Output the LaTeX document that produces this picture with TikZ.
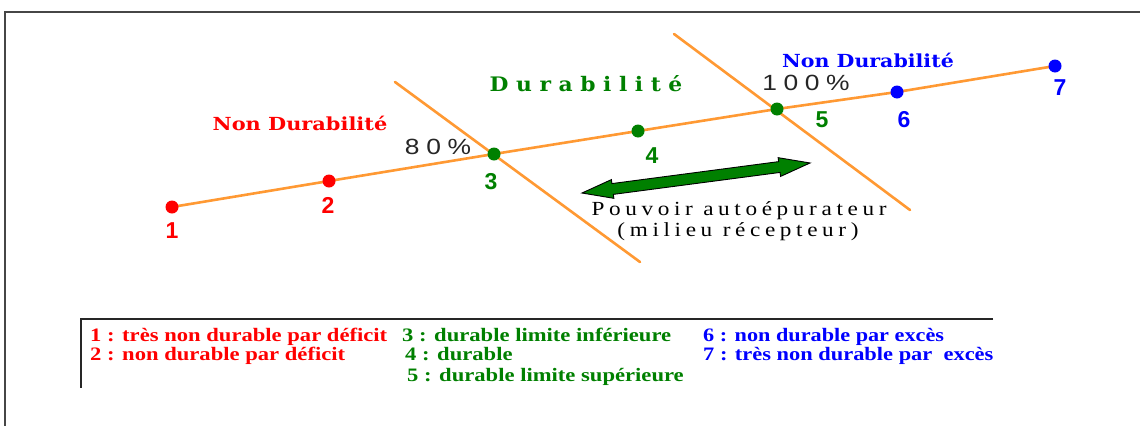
\documentclass[tikz,border=0pt]{standalone}
\usepackage{fontspec}
\setmainfont{Liberation Serif}
\newfontfamily\slabfont{DejaVu Serif}
\newfontfamily\pctfont[LetterSpace=25]{Liberation Sans}
\newfontfamily\numfont{Liberation Sans}
\newfontfamily\capfont[LetterSpace=20]{Liberation Serif}
\usetikzlibrary{shapes.arrows}

\definecolor{axisorange}{RGB}{255,153,51}
\definecolor{dgreen}{RGB}{0,128,0}
\definecolor{nred}{RGB}{255,0,0}
\definecolor{nblue}{RGB}{0,0,255}
\definecolor{framegray}{RGB}{70,70,70}

\newcommand{\sx}[2]{\scalebox{#1}[1]{#2}}

\tikzset{
  axis/.style={draw=axisorange, line width=2.6pt, line cap=round},
  dot/.style={circle, inner sep=0pt, minimum size=13pt, fill=#1},
  num/.style={font=\numfont\bfseries\fontsize{23}{23}\selectfont, text=#1, inner sep=0pt},
  zone/.style={font=\slabfont\bfseries\fontsize{18}{18}\selectfont, text=#1, inner sep=0pt},
  pct/.style={font=\pctfont\fontsize{22}{22}\selectfont, text=black!85, inner sep=0pt},
  caption/.style={font=\capfont\fontsize{20}{20}\selectfont, text=black, inner sep=0pt},
  legend/.style={anchor=base west, font=\bfseries\fontsize{19}{19}\selectfont, text=#1, inner sep=0pt},
}

\begin{document}
\begin{tikzpicture}[x=1pt, y=-1pt]
\useasboundingbox[fill=white] (0,0) rectangle (1140,426);

% outer frame (top and left edges)
\coordinate (fTR) at (1140,12);
\coordinate (fTL) at (5,12);
\coordinate (fBL) at (5,426);
\draw[framegray, line width=2pt] (fTR) -- (fTL) -- (fBL);

% points of the scale
\coordinate (c1) at (172,207);
\coordinate (c2) at (329,181);
\coordinate (c3) at (494,154);
\coordinate (c4) at (638,131);
\coordinate (c5) at (777,109);
\coordinate (c6) at (897,92);
\coordinate (c7) at (1055,66);

% the two limits
\coordinate (a1) at (395,82);
\coordinate (a2) at (640,262);
\coordinate (b1) at (674,34);
\coordinate (b2) at (910,210);

\draw[axis] (a1) -- (a2);
\draw[axis] (b1) -- (b2);
\draw[axis] (c1) -- (c2) -- (c3) -- (c4) -- (c5) -- (c6) -- (c7);

\node[dot=nred]   (p1) at (c1) {};
\node[dot=nred]   (p2) at (c2) {};
\node[dot=dgreen] (p3) at (c3) {};
\node[dot=dgreen] (p4) at (c4) {};
\node[dot=dgreen] (p5) at (c5) {};
\node[dot=nblue]  (p6) at (c6) {};
\node[dot=nblue]  (p7) at (c7) {};

\node[num=nred]   (n1) at (172,231) {1};
\node[num=nred]   (n2) at (328,205) {2};
\node[num=dgreen] (n3) at (491,182) {3};
\node[num=dgreen] (n4) at (652,156) {4};
\node[num=dgreen] (n5) at (822,120) {5};
\node[num=nblue]  (n6) at (904,120) {6};
\node[num=nblue]  (n7) at (1060,88) {7};

% zone titles
\node[zone=nred]   (ndl) at (300,123) {\sx{1.16}{Non Durabilité}};
\node[zone=dgreen, font=\slabfont\bfseries\fontsize{20}{20}\selectfont]
                   (dur) at (586,84)  {\sx{1.09}{D u r a b i l i t é}};
\node[zone=nblue]  (ndr) at (868,60)  {\sx{1.14}{Non Durabilité}};

\node[pct] (pct80)  at (438,147) {\sx{1.2}{80\%}};
\node[pct] (pct100) at (806,83)  {\sx{1.2}{100\%}};

% self-purification capacity
\node[double arrow, fill=dgreen, draw=black, line width=0.9pt,
      minimum height=230pt, double arrow head extend=4pt,
      double arrow tip angle=34, inner xsep=0pt, inner ysep=5pt,
      rotate=7.5] (selfp) at (696,178) {};
\node[caption] (pv) at (739,211) {\sx{1.16}{Pouvoir autoépurateur}};
\node[caption] (mr) at (738,232) {\sx{1.16}{(milieu récepteur)}};

% legend
\coordinate (lTR) at (993,319);
\coordinate (lTL) at (81,319);
\coordinate (lBL) at (81,388);
\draw[black!85, line width=1.8pt] (lTR) -- (lTL) -- (lBL);

\node[legend=nred]   (l1) at (90,341)  {\sx{1.19}{1 : très non durable par déficit}};
\node[legend=nred]   (l2) at (90,360)  {\sx{1.19}{2 : non durable par déficit}};
\node[legend=dgreen] (l3) at (402,341) {\sx{1.19}{3 : durable limite inférieure}};
\node[legend=dgreen] (l4) at (405,360) {\sx{1.19}{4 : durable}};
\node[legend=dgreen] (l5) at (407,381) {\sx{1.19}{5 : durable limite supérieure}};
\node[legend=nblue]  (l6) at (703,341) {\sx{1.17}{6 : non durable par excès}};
\node[legend=nblue]  (l7) at (703,360) {\sx{1.18}{7 : très non durable par \ excès}};
\end{tikzpicture}
\end{document}
